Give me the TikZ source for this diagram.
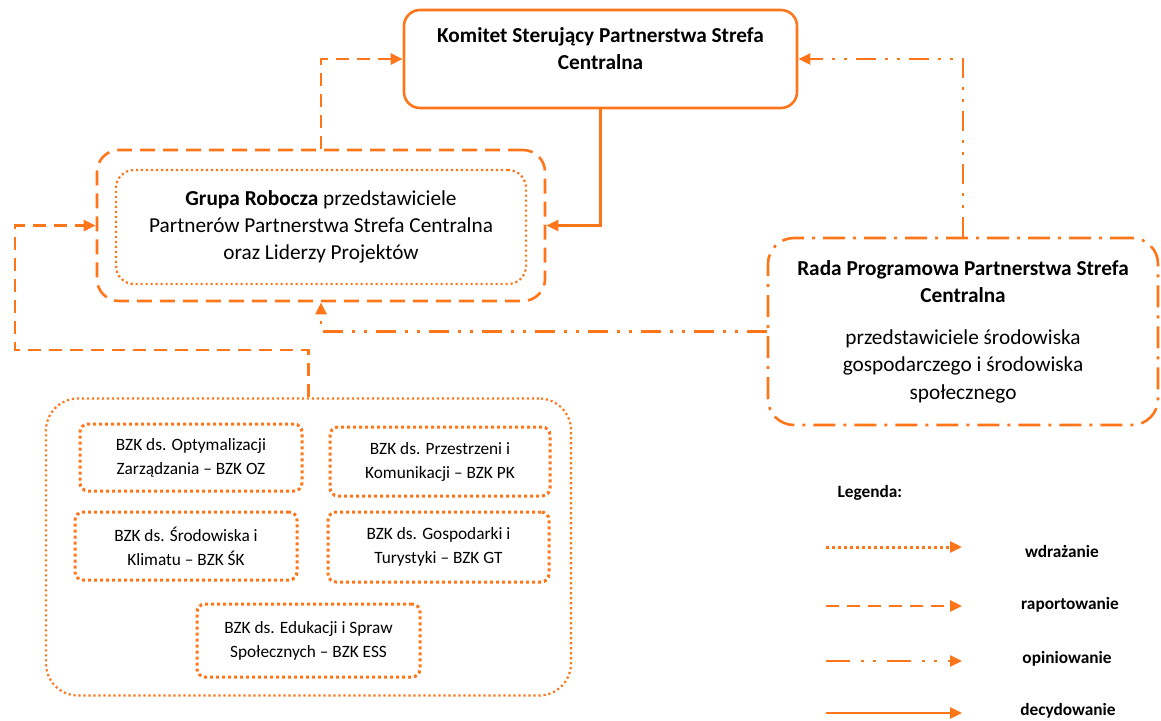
\documentclass[tikz,border=0pt]{standalone}
\usepackage{fontspec}
\setmainfont{Carlito}
\usetikzlibrary{arrows.meta}
\definecolor{org}{RGB}{255,118,26}
\tikzset{
  conn/.style={draw=org, line width=2.6pt, -{Triangle[length=12pt,width=11pt]}},
  rep/.style={dash pattern=on 13pt off 8pt},
  opi/.style={dash pattern=on 20pt off 9pt on 3pt off 9pt on 3pt off 9pt},
  wdr/.style={dash pattern=on 3pt off 3pt},
  bigfont/.style={font=\fontsize{21.3}{27.3}\selectfont},
  smallfont/.style={font=\fontsize{17.3}{24}\selectfont},
  legfont/.style={font=\fontsize{17.3}{20}\selectfont\bfseries},
  bzkbox/.style={draw=org, line width=3pt, dash pattern=on 3pt off 3pt, rounded corners=8pt,
    minimum width=221pt, minimum height=69pt, inner sep=0pt, align=center, smallfont},
}
\begin{document}
\begin{tikzpicture}[x=1pt,y=-1pt]
\useasboundingbox (0,0) rectangle (1161,720);

% Komitet
\node[draw=org, line width=2.6pt, rounded corners=16pt, minimum width=393pt, minimum height=98pt, inner sep=0pt]
  (komitet) at (600.5,59) {};
\node[align=center, font=\fontsize{21.3}{27}\selectfont\bfseries] (komitetT) at (600.5,49)
  {Komitet Sterujący Partnerstwa Strefa\\Centralna};

% Grupa Robocza
\node[draw=org, line width=2.6pt, dash pattern=on 15pt off 8pt, rounded corners=22pt, minimum width=448pt, minimum height=151pt, inner sep=0pt]
  (grupa) at (321,225.5) {};
\node[draw=org, line width=2.2pt, dash pattern=on 2.2pt off 2.8pt, rounded corners=18pt, minimum width=410pt, minimum height=114pt, inner sep=0pt, align=center, bigfont]
  (grupaT) at (321,227) {\textbf{Grupa Robocza} przedstawiciele\\Partnerów Partnerstwa Strefa Centralna\\oraz Liderzy Projektów};

% Rada Programowa
\node[draw=org, line width=2.6pt, dash pattern=on 22pt off 8pt on 3pt off 8pt, rounded corners=26pt, minimum width=390pt, minimum height=187pt, inner sep=0pt, align=center, bigfont]
  (rada) at (963,331.5) {\textbf{Rada Programowa Partnerstwa Strefa}\\\textbf{Centralna}\\[15pt]przedstawiciele środowiska\\gospodarczego i środowiska\\społecznego};

% BZK container
\node[draw=org, line width=2.2pt, dash pattern=on 2.2pt off 2.8pt, rounded corners=32pt, minimum width=525pt, minimum height=297pt, inner sep=0pt]
  (bzk) at (308.5,547) {};

\node[bzkbox, minimum width=222pt, minimum height=67pt] (oz) at (191,457.5) {BZK ds. Optymalizacji\\Zarządzania – BZK OZ};
\node[bzkbox, minimum width=220pt, minimum height=69pt] (pk) at (440,461.5) {BZK ds. Przestrzeni i\\Komunikacji – BZK PK};
\node[bzkbox, minimum width=222pt, minimum height=68pt] (sk) at (186,546) {BZK ds. Środowiska i\\Klimatu – BZK ŚK};
\node[bzkbox, minimum width=221pt, minimum height=70pt] (gt) at (438.5,547) {BZK ds. Gospodarki i\\Turystyki – BZK GT};
\node[bzkbox, minimum width=223pt, minimum height=73pt] (ess) at (308.5,640.5) {BZK ds. Edukacji i Spraw\\Społecznych – BZK ESS};

% connectors
\coordinate (c1) at (15,350);
\draw[conn,rep] (grupa.north) |- (komitet.west);
\draw[conn] (komitet.south) |- (grupa.east);
\draw[conn,opi] (rada.north) |- (komitet.east);
\draw[conn,opi] (rada.west) -| (grupa.south);
\draw[conn,rep] (bzk.north) |- (c1) |- (grupa.west);

% legend
\node[legfont, anchor=west] (leg) at (834,493) {Legenda:};
\coordinate (l1s) at (826,547); \coordinate (l1e) at (962,547);
\coordinate (l2s) at (826,606); \coordinate (l2e) at (962,606);
\coordinate (l3s) at (826,661); \coordinate (l3e) at (962,661);
\coordinate (l4s) at (826,713); \coordinate (l4e) at (962,713);
\draw[conn,wdr,line width=3pt] (l1s) -- (l1e);
\draw[conn,rep] (l2s) -- (l2e);
\draw[conn,dash pattern=on 24pt off 11pt on 3pt off 9pt on 3pt off 11pt] (l3s) -- (l3e);
\draw[conn] (l4s) -- (l4e);
\node[legfont] (t1) at (1062,551) {wdrażanie};
\node[legfont] (t2) at (1070,605) {raportowanie};
\node[legfont] (t3) at (1067,659) {opiniowanie};
\node[legfont] (t4) at (1068,711) {decydowanie};
\end{tikzpicture}
\end{document}
